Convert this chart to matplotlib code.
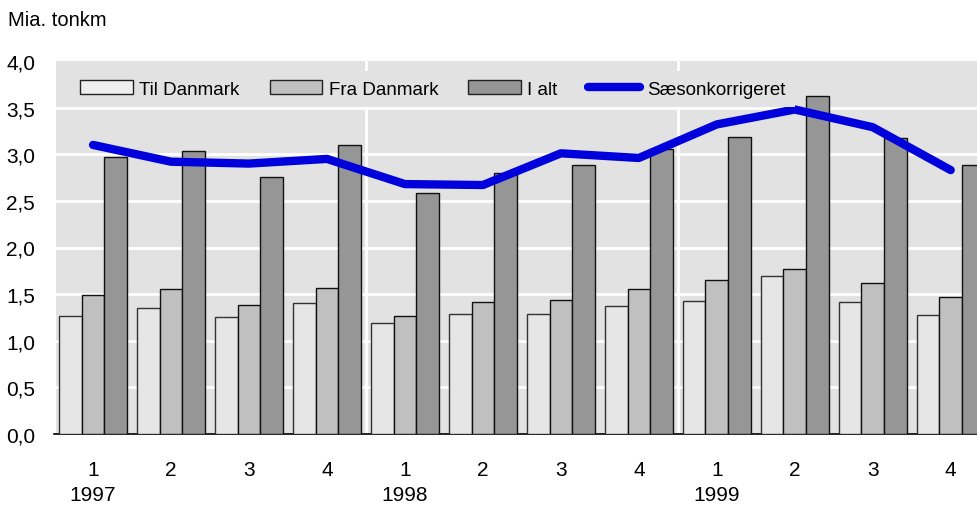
import matplotlib
matplotlib.use("Agg")
import matplotlib.pyplot as plt
import numpy as np
from matplotlib.patches import Patch
from matplotlib.lines import Line2D
import matplotlib.transforms as mtransforms

plt.rcParams['font.family'] = ['Liberation Sans', 'DejaVu Sans']

quarters = ['1', '2', '3', '4'] * 3
years = ['1997', '1998', '1999']
til_danmark = [1.27, 1.35, 1.25, 1.40, 1.19, 1.29, 1.29, 1.37, 1.43, 1.69, 1.42, 1.28]
fra_danmark = [1.49, 1.55, 1.38, 1.57, 1.27, 1.42, 1.44, 1.55, 1.65, 1.77, 1.62, 1.47]
i_alt = [2.97, 3.04, 2.76, 3.10, 2.58, 2.80, 2.88, 3.06, 3.19, 3.62, 3.17, 2.89]
saeson = [3.10, 2.92, 2.90, 2.95, 2.68, 2.67, 3.01, 2.96, 3.32, 3.48, 3.29, 2.83]
yticks = [0, 0.5, 1.0, 1.5, 2.0, 2.5, 3.0, 3.5, 4.0]

bg = '#e2e2e2'
c_til = '#e6e6e6'
c_fra = '#c0c0c0'
c_alt = '#969696'
c_line = '#0000dd'

fig = plt.figure(figsize=(9.78, 5.06), dpi=100)
ax = fig.add_axes([56/978, 1-435/506, 1-56/978, (435-62)/506])
ax.set_facecolor(bg)

x = np.arange(len(til_danmark))
w = 0.29
ax.bar(x - w, til_danmark, w, color=c_til, edgecolor='#333333', linewidth=1, zorder=3)
ax.bar(x, fra_danmark, w, color=c_fra, edgecolor='#111111', linewidth=1, zorder=3)
ax.bar(x + w, i_alt, w, color=c_alt, edgecolor='#111111', linewidth=1, zorder=3)
ax.plot(x, saeson, color=c_line, linewidth=6, solid_capstyle='round', solid_joinstyle='round', zorder=4)

for yv in yticks[1:-1]:
    ax.axhline(yv, color='white', linewidth=2, zorder=1)
for xv in [3.5, 7.5]:
    ax.axvline(xv, color='white', linewidth=2, zorder=1)

ax.set_ylim(0, 4.0)
ax.set_xlim(-0.475, 11.35)
ax.set_yticks(yticks)
ax.set_yticklabels([f"{v:.1f}".replace('.', ',') for v in yticks], fontsize=15)
ax.set_xticks(x)
ax.set_xticklabels(quarters, fontsize=15)
ax.tick_params(axis='y', length=0, pad=15)
ax.tick_params(axis='x', length=0, pad=19)
for s in ['top', 'right', 'left']:
    ax.spines[s].set_visible(False)
ax.spines['bottom'].set_color('black')
ax.spines['bottom'].set_linewidth(1.2)
ax.spines['bottom'].set_bounds(-0.5, 11.35)

trans = mtransforms.blended_transform_factory(ax.transData, fig.transFigure)
for i, yr in enumerate(years):
    ax.text(i * 4, 1 - 496/506, yr, transform=trans, ha='center', va='center', fontsize=15)

fig.text(8/978, 1-20/506, 'Mia. tonkm', ha='left', va='center', fontsize=14.5)

handles = [
    Patch(facecolor='#eeeeee', edgecolor='#222222', linewidth=1),
    Patch(facecolor=c_fra, edgecolor='#222222', linewidth=1),
    Patch(facecolor=c_alt, edgecolor='#222222', linewidth=1),
    Line2D([0], [0], color=c_line, linewidth=6, solid_capstyle='round'),
]
labels = ['Til Danmark', 'Fra Danmark', 'I alt', 'Sæsonkorrigeret']
leg = ax.legend(handles, labels, ncol=4, loc='upper left', bbox_to_anchor=(0.006, 0.998),
                fontsize=13.5, frameon=True, facecolor=bg, edgecolor='none', framealpha=1,
                handlelength=2.8, handleheight=0.75, handletextpad=0.35, columnspacing=1.6,
                borderpad=0.5, fancybox=False)
leg.set_zorder(5)

fig.savefig('out.png', dpi=100)
